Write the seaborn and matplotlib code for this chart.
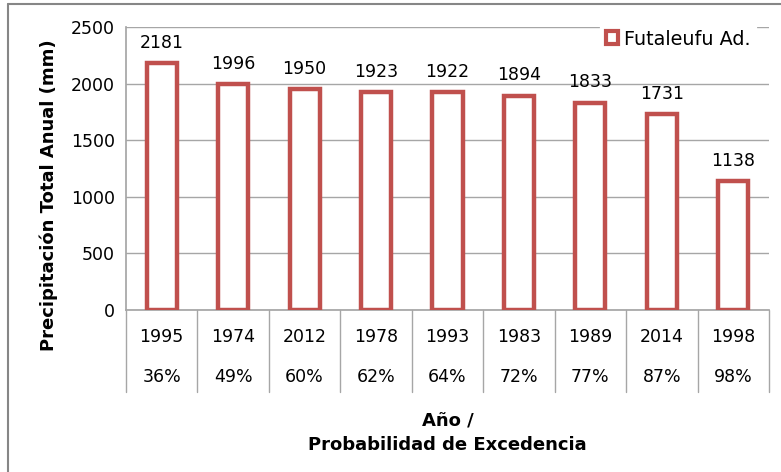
import pandas as pd
import matplotlib.pyplot as plt
import matplotlib.patches as mpatches
from matplotlib.lines import Line2D
import seaborn as sns

sns.set_theme(style="white")
plt.rcParams['font.family'] = ['DejaVu Sans']
plt.rcParams['text.color'] = 'black'
plt.rcParams['axes.labelcolor'] = 'black'
plt.rcParams['xtick.color'] = 'black'
plt.rcParams['ytick.color'] = 'black'

# data
years = ["1995", "1974", "2012", "1978", "1993", "1983", "1989", "2014", "1998"]
exceedance = ["36%", "49%", "60%", "62%", "64%", "72%", "77%", "87%", "98%"]
precip = [2181, 1996, 1950, 1923, 1922, 1894, 1833, 1731, 1138]

red = "#C0504D"
grid_col = "#A6A6A6"

dt = pd.DataFrame({"cat": [y + "\n\n" + p for y, p in zip(years, exceedance)],
                   "precip": precip})

fig = plt.figure(figsize=(7.81, 4.72), dpi=100)
ax = fig.add_axes([126 / 781, 1 - 310 / 472, (769 - 126) / 781, (310 - 27) / 472])

sns.barplot(data=dt, x="cat", y="precip", ax=ax, width=0.42,
            facecolor="white", edgecolor=red, linewidth=3.2, zorder=3)

ax.set_ylim(0, 2500)
ax.set_yticks(range(0, 2501, 500))
ax.set_xlim(-0.5, len(years) - 0.5)
ax.yaxis.grid(True, color=grid_col, linewidth=1)
ax.set_axisbelow(True)
for s in ["top", "right"]:
    ax.spines[s].set_visible(False)
ax.spines["left"].set_color(grid_col)
ax.spines["bottom"].set_color(grid_col)
ax.tick_params(axis="y", labelsize=12.5, length=4, color=grid_col, pad=4, labelcolor="black")
ax.tick_params(axis="x", labelsize=12.5, length=0, pad=13, labelcolor="black")
for lbl in ax.get_xticklabels():
    lbl.set_linespacing(1.15)

# category separators below the axis
trans = ax.get_xaxis_transform()
for i in range(len(years) + 1):
    ax.add_line(Line2D([i - 0.5, i - 0.5], [0, -82 / 283], transform=trans,
                       color=grid_col, linewidth=1, clip_on=False))

ax.bar_label(ax.containers[0], labels=[str(v) for v in precip],
             fontsize=12.5, padding=8, color="black")

ax.set_xlabel("Año /\nProbabilidad de Excedencia", fontsize=13, fontweight="bold",
              labelpad=18, linespacing=1.5)
ax.set_ylabel("Precipitación Total Anual (mm)", fontsize=13, fontweight="bold", labelpad=9)
ax.yaxis.label.set_y((310 - 195) / 283)

handle = mpatches.Patch(facecolor="white", edgecolor=red, linewidth=3)
leg = ax.legend([handle], ["Futaleufu Ad."], loc="upper right",
                bbox_to_anchor=(0.995, 1.045), frameon=True, fontsize=13.8,
                handlelength=0.65, handleheight=0.65, handletextpad=0.3,
                borderpad=0.3)
leg.get_frame().set_facecolor("white")
leg.get_frame().set_edgecolor("white")
leg.get_frame().set_alpha(1)

# outer chart frame (partly cropped in the original)
fig.add_artist(Line2D([8 / 781, 8 / 781], [0, 1 - 4 / 472], transform=fig.transFigure,
                      color="#868686", linewidth=1.5))
fig.add_artist(Line2D([8 / 781, 1], [1 - 4 / 472, 1 - 4 / 472], transform=fig.transFigure,
                      color="#868686", linewidth=1.5))

plt.savefig("out.png", dpi=100)
